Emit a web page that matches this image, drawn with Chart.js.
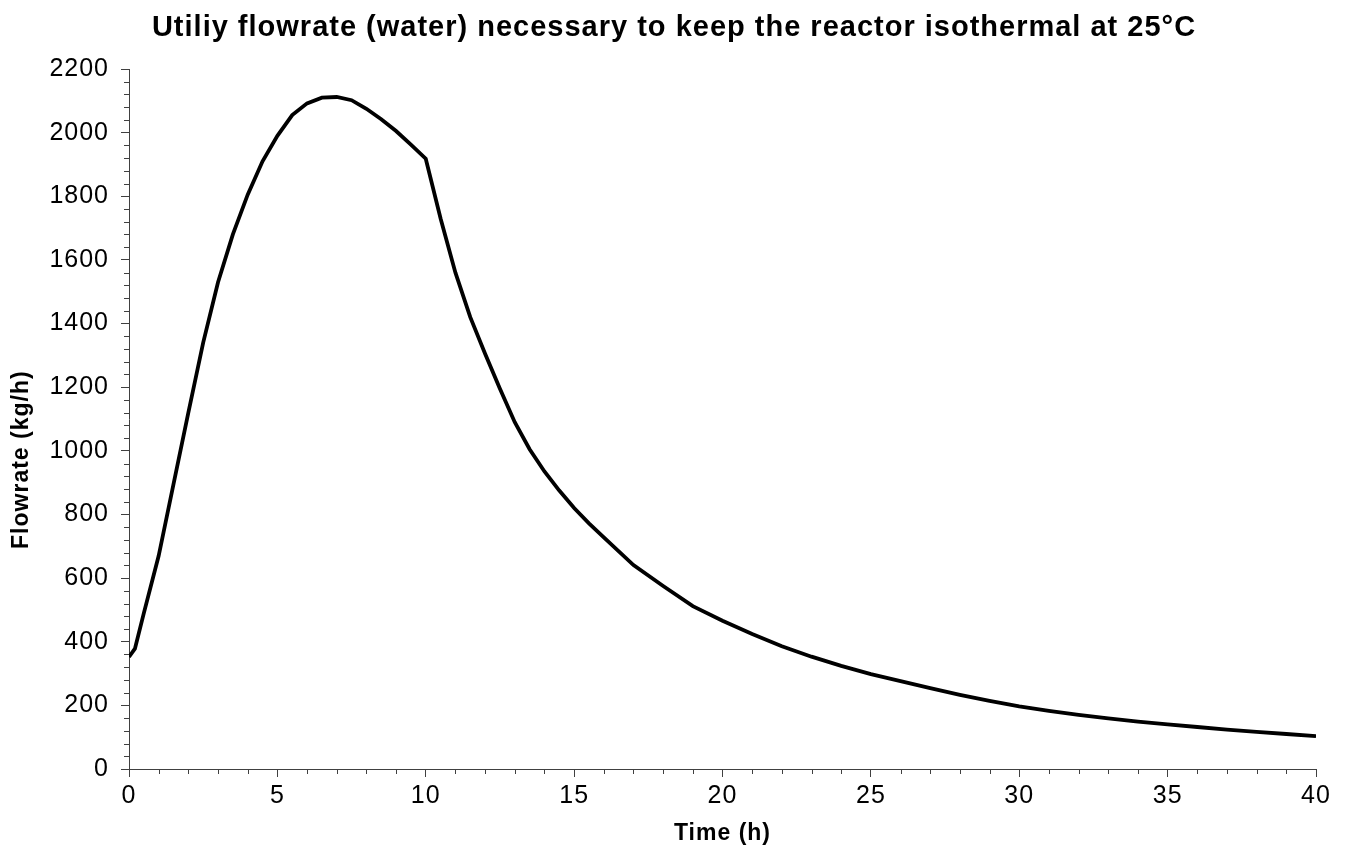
<!DOCTYPE html>
<html>
<head>
<meta charset="utf-8">
<script src="https://cdn.jsdelivr.net/npm/chart.js@4/dist/chart.umd.min.js"></script>
<style>
  html, body { margin: 0; padding: 0; background: #ffffff; }
  #wrap { width: 1348px; height: 855px; }
</style>
</head>
<body>
<div id="wrap"><canvas id="c" width="1348" height="855"></canvas></div>
<script>
// ---- data ----
const chartTitle = 'Utiliy flowrate (water) necessary to keep the reactor isothermal at 25°C';
const xAxisTitle = 'Time (h)';
const yAxisTitle = 'Flowrate (kg/h)';

const timeH = [
  0, 0.2, 0.5, 1.0, 1.5, 2.0, 2.5, 3.0, 3.5, 4.0, 4.5, 5.0, 5.5, 6.0, 6.5, 7.0, 7.5,
  8.0, 8.5, 9.0, 9.5, 10.0, 10.5, 11.0, 11.5, 12.0, 12.5, 13.0, 13.5, 14.0, 14.5,
  15.0, 15.5, 16.0, 17.0, 18.0, 19.0, 20.0, 21.0, 22.0, 23.0, 24.0, 25.0, 26.0,
  27.0, 28.0, 29.0, 30.0, 31.0, 32.0, 33.0, 34.0, 35.0, 36.0, 37.0, 38.0, 39.0, 40.0
];
const flowrateKgH = [
  352, 378, 490, 670, 895, 1120, 1340, 1530, 1680, 1805, 1910, 1990, 2055, 2092, 2110, 2112, 2102,
  2075, 2042, 2005, 1962, 1918, 1730, 1560, 1420, 1305, 1195, 1090, 1005, 935, 875,
  820, 772, 728, 641, 575, 512, 466, 424, 386, 353, 324, 298, 276,
  254, 233, 214, 197, 183, 170, 159, 149, 140, 132, 124, 117, 110, 103
];

const xTickMin = 0, xTickMax = 40, xMajorStep = 5, xMinorStep = 1;
const yTickMin = 0, yTickMax = 2200, yMajorStep = 200, yMinorStep = 40;

// ---- chart ----
const FONT = "'Liberation Sans', Arial, sans-serif";
const AXIS_COLOR = '#404040';
const LETTER_SPACING = '1px';

const textSpacing = {
  id: 'textSpacing',
  beforeUpdate(chart) { chart.ctx.letterSpacing = LETTER_SPACING; },
  beforeLayout(chart) { chart.ctx.letterSpacing = LETTER_SPACING; },
  beforeDraw(chart) { chart.ctx.letterSpacing = LETTER_SPACING; }
};

const minorTicks = {
  id: 'minorTicks',
  afterDraw(chart) {
    const ctx = chart.ctx;
    const xs = chart.scales.x, ys = chart.scales.y;
    ctx.save();
    ctx.strokeStyle = AXIS_COLOR;
    ctx.lineWidth = 1;
    ctx.beginPath();
    for (let v = yTickMin; v <= yTickMax + 1e-9; v += yMinorStep) {
      if (Math.abs(v / yMajorStep - Math.round(v / yMajorStep)) < 1e-9) continue;
      const py = Math.round(ys.getPixelForValue(v)) + 0.5;
      ctx.moveTo(ys.right - 5, py);
      ctx.lineTo(ys.right, py);
    }
    for (let v = xTickMin; v <= xTickMax + 1e-9; v += xMinorStep) {
      if (Math.abs(v / xMajorStep - Math.round(v / xMajorStep)) < 1e-9) continue;
      const px = Math.round(xs.getPixelForValue(v)) + 0.5;
      ctx.moveTo(px, xs.top);
      ctx.lineTo(px, xs.top + 5);
    }
    ctx.stroke();
    ctx.restore();
  }
};

const points = timeH.map((t, i) => ({ x: t, y: flowrateKgH[i] }));

new Chart(document.getElementById('c'), {
  type: 'line',
  data: {
    datasets: [{
      label: yAxisTitle,
      data: points,
      borderColor: '#000000',
      borderWidth: 3.8,
      pointRadius: 0,
      tension: 0,
      fill: false
    }]
  },
  options: {
    responsive: false,
    animation: false,
    devicePixelRatio: 1,
    layout: { padding: 0 },
    plugins: {
      legend: { display: false },
      tooltip: { enabled: false },
      title: {
        display: true,
        text: chartTitle,
        color: '#000000',
        font: { family: FONT, size: 29, weight: 'bold' },
        padding: { top: 11, bottom: 23.2 }
      }
    },
    scales: {
      x: {
        type: 'linear',
        position: 'bottom',
        min: xTickMin,
        max: xTickMax,
        afterFit(s) { s.height = 86; },
        ticks: {
          stepSize: xMajorStep,
          color: '#000000',
          font: { family: FONT, size: 25 },
          padding: 4,
          maxRotation: 0
        },
        grid: { drawOnChartArea: false, drawTicks: true, tickLength: 8, color: AXIS_COLOR },
        border: { display: true, color: AXIS_COLOR, width: 1 },
        title: {
          display: true,
          text: xAxisTitle,
          color: '#000000',
          font: { family: FONT, size: 23, weight: 'bold' },
          padding: { top: 0, bottom: 8 }
        }
      },
      y: {
        type: 'linear',
        min: yTickMin,
        max: yTickMax,
        afterFit(s) { s.width = 129; },
        ticks: {
          stepSize: yMajorStep,
          color: '#000000',
          font: { family: FONT, size: 25 },
          padding: 12,
          callback: (v) => String(v)
        },
        grid: { drawOnChartArea: false, drawTicks: true, tickLength: 8, color: AXIS_COLOR },
        border: { display: true, color: AXIS_COLOR, width: 1 },
        title: {
          display: true,
          text: yAxisTitle + '           ',
          color: '#000000',
          font: { family: FONT, size: 23, weight: 'bold' },
          padding: { top: 8, bottom: 0 }
        }
      },
      yRight: {
        type: 'linear',
        position: 'right',
        min: 0,
        max: 1,
        afterFit(s) { s.width = 32; },
        ticks: { display: false },
        grid: { display: false, drawTicks: false },
        border: { display: false },
        title: { display: false }
      }
    }
  },
  plugins: [textSpacing, minorTicks]
});
</script>
</body>
</html>
